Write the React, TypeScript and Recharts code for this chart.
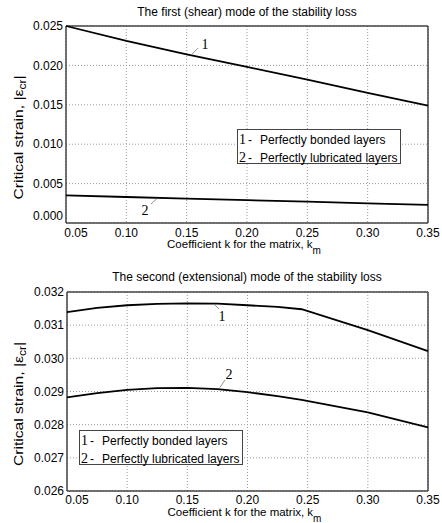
import React from 'react';
import {
  LineChart,
  Line,
  XAxis,
  YAxis,
  CartesianGrid,
  ReferenceLine,
  ReferenceDot,
} from 'recharts';

const FONT = '"Liberation Sans", Arial, Helvetica, sans-serif';
const SERIF = '"Liberation Serif", "Times New Roman", serif';
const FRAME = '#444';
const FRAME_W = 1.5;

// ---- shared ----
const kTicks = [0.05, 0.1, 0.15, 0.2, 0.25, 0.3, 0.35];
const legendLabels = ['Perfectly bonded layers', 'Perfectly lubricated layers'];
const curveNumbers = ['1', '2'];

// ---- first (shear) mode ----
const shearTitle = 'The first (shear) mode of the stability loss';
const shearK = [0.05, 0.1, 0.15, 0.2, 0.25, 0.3, 0.35];
const shearBonded = [0.025, 0.0231, 0.0214, 0.0198, 0.0182, 0.0165, 0.0149];
const shearLubricated = [0.0035, 0.0033, 0.0031, 0.0029, 0.0027, 0.0025, 0.0023];
const shearYTicks = [0, 0.005, 0.01, 0.015, 0.02, 0.025];
const shearNotes = [
  { label: '1', k: 0.1652, v: 0.02272, from: [0.1594, 0.0222], to: [0.1536, 0.0213] },
  { label: '2', k: 0.1155, v: 0.00165, from: [0.1204, 0.00241], to: [0.1254, 0.0031] },
];

// ---- second (extensional) mode ----
const extTitle = 'The second (extensional) mode of the stability loss';
const extK = [0.05, 0.075, 0.1, 0.125, 0.15, 0.175, 0.2, 0.225, 0.245, 0.3, 0.35];
const extBonded = [0.03139, 0.03152, 0.0316, 0.03164, 0.03166, 0.03165, 0.0316, 0.03155, 0.03148, 0.03085, 0.03022];
const extLubricated = [0.02882, 0.02895, 0.02905, 0.0291, 0.02911, 0.02907, 0.02898, 0.02886, 0.02875, 0.02837, 0.02792];
const extYTicks = [0.026, 0.027, 0.028, 0.029, 0.03, 0.031, 0.032];
const extNotes = [
  { label: '1', k: 0.1788, v: 0.03128, from: [0.1763, 0.03149], to: [0.1721, 0.03164] },
  { label: '2', k: 0.1846, v: 0.02953, from: [0.1813, 0.02935], to: [0.1771, 0.02912] },
];

function XTick(props: any) {
  const { x, y, payload, firstShift } = props;
  const v = payload.value as number;
  const dx = Math.abs(v - kTicks[0]) < 1e-9 ? firstShift : 0;
  return (
    <text x={x + dx} y={y} dy="0.71em" textAnchor="middle" fontSize={12} fontFamily={FONT} fill="#000">
      {v.toFixed(2)}
    </text>
  );
}

function YTick(props: any) {
  const { x, y, payload, lowShift, lowValue } = props;
  const v = payload.value as number;
  const dy = Math.abs(v - lowValue) < 1e-9 ? lowShift : 0;
  return (
    <text x={x} y={y + dy} dy="0.355em" textAnchor="end" fontSize={12} fontFamily={FONT} fill="#000">
      {v.toFixed(3)}
    </text>
  );
}

function XTitle(props: any) {
  const { viewBox } = props;
  const cx = viewBox.x + viewBox.width / 2 - 3;
  const y = viewBox.y + 25;
  return (
    <text x={cx} y={y} textAnchor="middle" fontSize={11.5} fontFamily={FONT} fill="#000">
      Coefficient k for the matrix, k
      <tspan fontSize={10} dy={6}>m</tspan>
    </text>
  );
}

function YTitle(props: any) {
  const { viewBox, shift } = props;
  const cx = 18;
  const cy = viewBox.y + viewBox.height / 2 + shift;
  return (
    <text
      x={cx}
      y={cy}
      transform={`rotate(-90 ${cx} ${cy})`}
      textAnchor="middle"
      dominantBaseline="central"
      fontSize={13}
      fontFamily={FONT}
      fill="#000"
      textLength={124}
      lengthAdjust="spacingAndGlyphs"
    >
      Critical strain, |ε
      <tspan fontSize={10} dy={4}>cr</tspan>
      <tspan dy={-4}>|</tspan>
    </text>
  );
}

function Panel(props: any) {
  const { k, bonded, lubricated, yDomain, yTicks, notes, height, marginTop, xAxisHeight, yAxisWidth, xTickMargin, lowShift, yTitleShift } = props;
  const data = k.map((kk: number, i: number) => ({ k: kk, bonded: bonded[i], lubricated: lubricated[i] }));
  const xDomain = [kTicks[0], kTicks[kTicks.length - 1]];
  return (
    <LineChart width={442} height={height} data={data} margin={{ top: marginTop, right: 14, bottom: 0, left: 0 }}>
      <CartesianGrid stroke="#9a9a9a" strokeDasharray="1 2" />
      <XAxis
        dataKey="k"
        type="number"
        domain={xDomain}
        ticks={kTicks}
        interval={0}
        height={xAxisHeight}
        axisLine={{ stroke: FRAME, strokeWidth: FRAME_W }}
        tickLine={false}
        tickSize={0}
        tickMargin={xTickMargin}
        tick={<XTick firstShift={10} />}
        label={<XTitle />}
      />
      <YAxis
        type="number"
        domain={yDomain}
        ticks={yTicks}
        interval={0}
        width={yAxisWidth}
        axisLine={false}
        tickLine={false}
        tickSize={0}
        tickMargin={3}
        tick={<YTick lowShift={lowShift} lowValue={yDomain[0]} />}
        label={<YTitle shift={yTitleShift} />}
      />
      {xDomain.map((xv: number, i: number) => (
        <ReferenceLine key={'fx' + i} x={xv} stroke={FRAME} strokeWidth={FRAME_W} ifOverflow="visible" />
      ))}
      <ReferenceLine
        segment={[
          { x: xDomain[0], y: yDomain[1] },
          { x: xDomain[1], y: yDomain[1] },
        ]}
        stroke={FRAME}
        strokeWidth={FRAME_W}
      />
      <Line type="linear" dataKey="bonded" stroke="#000" strokeWidth={1.8} dot={false} isAnimationActive={false} />
      <Line type="linear" dataKey="lubricated" stroke="#000" strokeWidth={1.8} dot={false} isAnimationActive={false} />
      {notes.map((n: any, i: number) => (
        <ReferenceLine
          key={'l' + i}
          segment={[
            { x: n.from[0], y: n.from[1] },
            { x: n.to[0], y: n.to[1] },
          ]}
          stroke="#777"
          strokeWidth={0.8}
        />
      ))}
      {notes.map((n: any, i: number) => (
        <ReferenceDot
          key={'d' + i}
          x={n.k}
          y={n.v}
          r={0}
          fill="none"
          stroke="none"
          label={{ value: n.label, position: 'center', fill: '#000', fontSize: 14, fontFamily: SERIF }}
        />
      ))}
    </LineChart>
  );
}

function LegendBox(props: any) {
  const { left, top } = props;
  return (
    <div
      style={{
        position: 'absolute',
        left,
        top,
        height: 35,
        boxSizing: 'border-box',
        border: '1px solid ' + FRAME,
        background: '#fff',
        padding: '1px 3px 0 1px',
        lineHeight: '17px',
        fontSize: 12,
        fontFamily: FONT,
        whiteSpace: 'nowrap',
        color: '#000',
      }}
    >
      {legendLabels.map((l, i) => (
        <div key={i}>
          <span style={{ display: 'inline-block', width: 9, fontFamily: SERIF, fontSize: 14 }}>{curveNumbers[i]}</span>
          <span style={{ display: 'inline-block', width: 12 }}>-</span>
          {l}
        </div>
      ))}
    </div>
  );
}

const titleStyle: React.CSSProperties = {
  position: 'absolute',
  left: 66,
  width: 362,
  textAlign: 'center',
  fontSize: 12,
  lineHeight: '14px',
  fontFamily: FONT,
  color: '#000',
  whiteSpace: 'nowrap',
};

export default function App() {
  return (
    <div style={{ position: 'absolute', left: 0, top: 0, width: 442, height: 523, background: '#fff', overflow: 'hidden' }}>
      <div style={{ position: 'absolute', left: 0, top: 0 }}>
        <Panel
          k={shearK}
          bonded={shearBonded}
          lubricated={shearLubricated}
          yDomain={[0, 0.025]}
          yTicks={shearYTicks}
          notes={shearNotes}
          height={260}
          marginTop={26}
          xAxisHeight={37}
          yAxisWidth={66}
          xTickMargin={5}
          lowShift={-7}
          yTitleShift={13}
        />
      </div>
      <div style={{ position: 'absolute', left: 0, top: 260 }}>
        <Panel
          k={extK}
          bonded={extBonded}
          lubricated={extLubricated}
          yDomain={[0.026, 0.032]}
          yTicks={extYTicks}
          notes={extNotes}
          height={263}
          marginTop={32}
          xAxisHeight={32}
          yAxisWidth={67}
          xTickMargin={4}
          lowShift={0}
          yTitleShift={12.5}
        />
      </div>
      <div style={{ ...titleStyle, top: 5 }}>{shearTitle}</div>
      <div style={{ ...titleStyle, top: 270 }}>{extTitle}</div>
      <LegendBox left={237} top={129} />
      <LegendBox left={79} top={430} />
    </div>
  );
}
